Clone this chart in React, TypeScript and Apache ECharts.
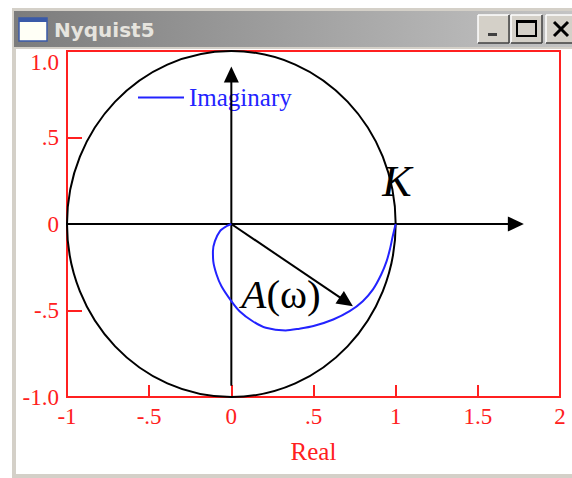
import React, { useEffect, useRef } from "react";
import * as echarts from "echarts";

// Nyquist locus G(jω): real and imaginary parts, ω from 0 (at K) to ∞ (origin)
const realPart = [1.0, 0.98, 0.967, 0.945, 0.912, 0.862, 0.8, 0.72, 0.62, 0.5, 0.415, 0.33, 0.21, 0.13, 0.05, 0.0, -0.06, -0.09, -0.11, -0.112, -0.1, -0.07, -0.03, 0];
const imagPart = [0, -0.08, -0.138, -0.215, -0.292, -0.378, -0.446, -0.504, -0.552, -0.59, -0.605, -0.615, -0.6, -0.562, -0.504, -0.446, -0.36, -0.292, -0.215, -0.157, -0.099, -0.042, -0.013, 0];

// Axis ticks and their printed labels
const xTicks = [-1, -0.5, 0, 0.5, 1, 1.5, 2];
const xTickLabels = ["-1", "-.5", "0", ".5", "1", "1.5", "2"];
const yTicks = [-1, -0.5, 0, 0.5, 1];
const yTickLabels = ["-1.0", "-.5", "0", ".5", "1.0"];

// Gain K: radius of the reference circle centred on the origin
const circleCentreX = [0];
const circleCentreY = [0];
const circleRadius = [1];

// Arrows as [x0, y0, x1, y1] in data units
const axisArrows = [
  [-1, 0, 1.78, 0],
  [0, -0.935, 0, 0.91],
];
const amplitudeArrow = [[0, 0, 0.74, -0.475]];

const RED = "#ff2020";
const BLUE = "#2323ff";
const SERIF = "'Liberation Serif', 'Times New Roman', serif";

const labelFor = (ticks: number[], labels: string[]) => (v: number) => {
  const i = ticks.findIndex((t) => Math.abs(t - v) < 1e-9);
  return i >= 0 ? labels[i] : "";
};

const renderArrow = (_params: any, api: any) => {
  const p0 = api.coord([api.value(0), api.value(1)]);
  const p1 = api.coord([api.value(2), api.value(3)]);
  const dx = p1[0] - p0[0];
  const dy = p1[1] - p0[1];
  const len = Math.hypot(dx, dy) || 1;
  const ux = dx / len;
  const uy = dy / len;
  const headLen = 16;
  const headHalf = 7.5;
  const bx = p1[0] - ux * headLen;
  const by = p1[1] - uy * headLen;
  return {
    type: "group",
    children: [
      {
        type: "line",
        shape: { x1: p0[0], y1: p0[1], x2: bx + ux * 2, y2: by + uy * 2 },
        style: { stroke: "#000", lineWidth: 2 },
      },
      {
        type: "polygon",
        shape: {
          points: [
            [p1[0], p1[1]],
            [bx - uy * headHalf, by + ux * headHalf],
            [bx + uy * headHalf, by - ux * headHalf],
          ],
        },
        style: { fill: "#000" },
      },
    ],
  };
};

const renderCircle = (_params: any, api: any) => {
  const cx = api.value(0);
  const cy = api.value(1);
  const r = api.value(2);
  const c = api.coord([cx, cy]);
  const ex = api.coord([cx + r, cy]);
  const ey = api.coord([cx, cy + r]);
  return {
    type: "ellipse",
    shape: { cx: c[0], cy: c[1], rx: ex[0] - c[0], ry: c[1] - ey[1] },
    style: { fill: "none", stroke: "#000", lineWidth: 2 },
  };
};

// Window frame pieces drawn around the plot
const windowChrome = (): any[] => {
  const btn = (x: number, w: number) => [
    { type: "rect", shape: { x, y: 15, width: w, height: 28 }, style: { fill: "#d4d0c8" } },
    { type: "line", shape: { x1: x, y1: 15, x2: x + w, y2: 15 }, style: { stroke: "#ffffff", lineWidth: 1.5 } },
    { type: "line", shape: { x1: x, y1: 15, x2: x, y2: 43 }, style: { stroke: "#ffffff", lineWidth: 1.5 } },
    { type: "line", shape: { x1: x, y1: 43, x2: x + w, y2: 43 }, style: { stroke: "#404040", lineWidth: 1.5 } },
    { type: "line", shape: { x1: x + w, y1: 15, x2: x + w, y2: 43 }, style: { stroke: "#404040", lineWidth: 1.5 } },
  ];
  return [
    { type: "rect", shape: { x: 12, y: 8, width: 560, height: 41 }, style: { fill: "#d4d0c8" } },
    {
      type: "rect",
      shape: { x: 14, y: 11, width: 558, height: 36 },
      style: {
        fill: new echarts.graphic.LinearGradient(0, 0, 1, 0, [
          { offset: 0, color: "#7c7c7c" },
          { offset: 1, color: "#c4c4c4" },
        ]),
      },
    },
    { type: "rect", shape: { x: 12, y: 48, width: 4, height: 430 }, style: { fill: "#d4d0c8" } },
    { type: "rect", shape: { x: 12, y: 474, width: 560, height: 4 }, style: { fill: "#d4d0c8" } },
    // caption icon
    { type: "rect", shape: { x: 19, y: 18, width: 28, height: 23 }, style: { fill: "#fffff6", stroke: "#3a5aa8", lineWidth: 1.5 } },
    { type: "rect", shape: { x: 19, y: 18, width: 28, height: 4 }, style: { fill: "#3a5aa8" } },
    {
      type: "text",
      x: 54,
      y: 30,
      style: {
        text: "Nyquist5",
        fill: "#e6e4de",
        font: "bold 20px 'DejaVu Sans', sans-serif",
        verticalAlign: "middle",
      },
    },
    ...btn(478, 31),
    ...btn(511, 31),
    ...btn(546, 30),
    { type: "rect", shape: { x: 488, y: 33, width: 9, height: 3 }, style: { fill: "#404040" } },
    { type: "rect", shape: { x: 517, y: 21, width: 19, height: 15 }, style: { fill: "none", stroke: "#000", lineWidth: 2 } },
    { type: "rect", shape: { x: 517, y: 20, width: 19, height: 3 }, style: { fill: "#000" } },
    { type: "line", shape: { x1: 554, y1: 22, x2: 568, y2: 36 }, style: { stroke: "#000", lineWidth: 3 } },
    { type: "line", shape: { x1: 568, y1: 22, x2: 554, y2: 36 }, style: { stroke: "#000", lineWidth: 3 } },
  ];
};

export default function App() {
  const ref = useRef<HTMLDivElement>(null);

  useEffect(() => {
    if (!ref.current) return;
    const chart = echarts.init(ref.current, undefined, { renderer: "svg" });

    const locus = realPart.map((x, i) => [x, imagPart[i]]);
    const circles = circleCentreX.map((x, i) => [x, circleCentreY[i], circleRadius[i]]);

    chart.setOption({
      animation: false,
      backgroundColor: "#ffffff",
      grid: {
        left: 67,
        right: 12,
        top: 51,
        bottom: 81,
        show: true,
        borderColor: RED,
        borderWidth: 2,
        backgroundColor: "transparent",
      },
      legend: {
        data: [{ name: "Imaginary", icon: "rect" }],
        left: 138,
        top: 85,
        padding: 0,
        itemWidth: 46,
        itemHeight: 2,
        textStyle: { color: BLUE, fontFamily: SERIF, fontSize: 25 },
      },
      xAxis: {
        type: "value",
        min: -1,
        max: 2,
        interval: 0.5,
        name: "Real",
        nameLocation: "middle",
        nameGap: 42,
        nameTextStyle: { color: RED, fontFamily: SERIF, fontSize: 25 },
        axisLine: { show: false, onZero: false },
        axisTick: { show: true, inside: true, length: 12, lineStyle: { color: RED, width: 2 } },
        axisLabel: {
          color: RED,
          fontFamily: SERIF,
          fontSize: 23,
          margin: 8,
          formatter: labelFor(xTicks, xTickLabels),
        },
        splitLine: { show: false },
      },
      yAxis: {
        type: "value",
        min: -1,
        max: 1,
        interval: 0.5,
        axisLine: { show: false, onZero: false },
        axisTick: { show: true, inside: true, length: 15, lineStyle: { color: RED, width: 2 } },
        axisLabel: {
          color: RED,
          fontFamily: SERIF,
          fontSize: 23,
          margin: 8,
          verticalAlignMaxLabel: "top",
          formatter: labelFor(yTicks, yTickLabels),
        },
        splitLine: { show: false },
      },
      series: [
        {
          type: "custom",
          coordinateSystem: "cartesian2d",
          silent: true,
          z: 3,
          data: circles,
          renderItem: renderCircle,
        },
        {
          type: "custom",
          coordinateSystem: "cartesian2d",
          silent: true,
          z: 4,
          data: axisArrows,
          renderItem: renderArrow,
        },
        {
          type: "custom",
          coordinateSystem: "cartesian2d",
          silent: true,
          z: 4,
          data: amplitudeArrow,
          renderItem: renderArrow,
        },
        {
          name: "Imaginary",
          type: "line",
          data: locus,
          symbol: "none",
          smooth: 0.3,
          z: 5,
          lineStyle: { color: BLUE, width: 2 },
          itemStyle: { color: BLUE },
        },
      ],
      graphic: [
        ...windowChrome(),
        {
          type: "text",
          x: 397,
          y: 181,
          z: 10,
          style: {
            text: "K",
            fill: "#000",
            font: `italic 44px ${SERIF}`,
            align: "center",
            verticalAlign: "middle",
          },
        },
        {
          type: "text",
          x: 281,
          y: 294,
          z: 10,
          style: {
            text: "{a|A}{b|(ω)}",
            fill: "#000",
            align: "center",
            verticalAlign: "middle",
            rich: {
              a: { fontFamily: SERIF, fontSize: 41, fontStyle: "italic", fill: "#000" },
              b: { fontFamily: SERIF, fontSize: 41, fill: "#000" },
            },
          },
        },
      ],
    });

    return () => chart.dispose();
  }, []);

  return (
    <div
      ref={ref}
      style={{ position: "absolute", left: 0, top: 0, width: 572, height: 478, background: "#ffffff" }}
    />
  );
}
